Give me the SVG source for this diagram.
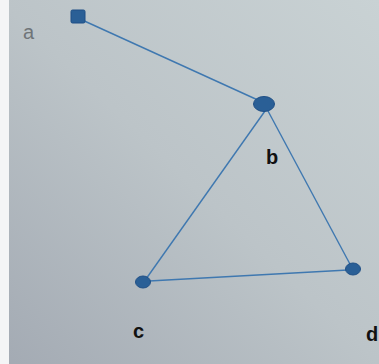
<svg xmlns="http://www.w3.org/2000/svg" width="379" height="364" viewBox="0 0 379 364">
<defs>
<linearGradient id="bg" x1="1" y1="0" x2="0" y2="1">
<stop offset="0" stop-color="#c9d2d4"/>
<stop offset="0.5" stop-color="#bcc4c8"/>
<stop offset="1" stop-color="#a3aab3"/>
</linearGradient>
<style>
.edge{stroke:#3f78b0;stroke-width:1.4;fill:none}
.node{fill:#2a5f96;stroke:#1f4f86;stroke-width:1}
.lbl{font-family:"Liberation Sans",Arial,sans-serif;font-weight:bold;font-size:20px;fill:#111}
.lbla{font-family:"Liberation Sans",Arial,sans-serif;font-size:20px;fill:#6f7478}
</style>
</defs>
<rect width="379" height="364" fill="url(#bg)"/>
<rect width="9" height="364" fill="#f4f5f6"/>
<g id="edges">
<line class="edge" x1="80" y1="19" x2="260" y2="101"/>
<line class="edge" x1="265" y1="111" x2="146" y2="279"/>
<line class="edge" x1="268" y1="111" x2="351" y2="266"/>
<line class="edge" x1="149" y1="281" x2="348" y2="270"/>
</g>
<g id="node-a">
<rect class="node" x="71" y="10" width="14" height="13" rx="1.5"/>
<text class="lbla" x="23" y="39">a</text>
</g>
<g id="node-b">
<ellipse class="node" cx="264" cy="104" rx="10.5" ry="7.5"/>
<text class="lbl" x="266" y="164">b</text>
</g>
<g id="node-c">
<ellipse class="node" cx="143" cy="282" rx="7.5" ry="6"/>
<text class="lbl" x="133" y="338">c</text>
</g>
<g id="node-d">
<ellipse class="node" cx="353" cy="269" rx="7.5" ry="6"/>
<text class="lbl" x="366" y="341">d</text>
</g>
</svg>
